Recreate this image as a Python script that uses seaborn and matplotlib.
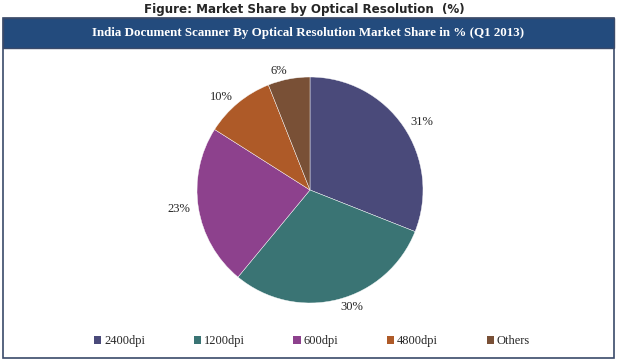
import matplotlib

matplotlib.use("Agg")
import matplotlib.pyplot as plt
import seaborn as sns
from matplotlib.patches import Rectangle, Patch

# data
labels = ["2400dpi", "1200dpi", "600dpi", "4800dpi", "Others"]
shares = [31, 30, 23, 10, 6]
colors = ["#4a4a7a", "#3a7474", "#8d418d", "#ae5a28", "#795036"]

sns.set_style("white")
plt.rcParams["font.family"] = ["Liberation Serif", "DejaVu Serif"]

W, H = 617, 361
fig = plt.figure(figsize=(W / 100, H / 100), dpi=100)

# frame and banner
fig.patches.append(Rectangle((3 / W, 3 / H), 611 / W, 340 / H, transform=fig.transFigure,
                             fill=False, edgecolor="#3a4a6a", linewidth=1.2))
fig.patches.append(Rectangle((3 / W, (H - 48) / H), 611 / W, 30 / H, transform=fig.transFigure,
                             facecolor="#234b7d", edgecolor="#3a4a6a", linewidth=1.0))

fig.text(304 / W, (H - 9) / H, "Figure: Market Share by Optical Resolution  (%)", ha="center", va="center",
         fontsize=8.6, fontweight="bold", family=["DejaVu Sans"])
fig.text(0.5, (H - 33) / H, "India Document Scanner By Optical Resolution Market Share in % (Q1 2013)",
         ha="center", va="center", fontsize=9.4, fontweight="bold", color="white")

# pie
cx, cy, r = 310, 190, 113
side = r * 2.5
ax = fig.add_axes([(cx - side / 2) / W, (H - cy - side / 2) / H, side / W, side / H])
ax.pie(shares, colors=colors, startangle=90, counterclock=False,
       labels=[f"{v}%" for v in shares], labeldistance=1.07,
       textprops={"fontsize": 9},
       wedgeprops={"edgecolor": "white", "linewidth": 0.3})
ax.set_aspect("equal")

handles = [Patch(facecolor=c, edgecolor="none") for c in colors]
fig.legend(handles, labels, loc="center", bbox_to_anchor=(312 / W, (H - 341) / H), ncol=5,
           frameon=False, fontsize=9, handlelength=0.6, handleheight=0.6, handletextpad=0.2,
           columnspacing=3.9)

fig.savefig("out.png", dpi=100)
